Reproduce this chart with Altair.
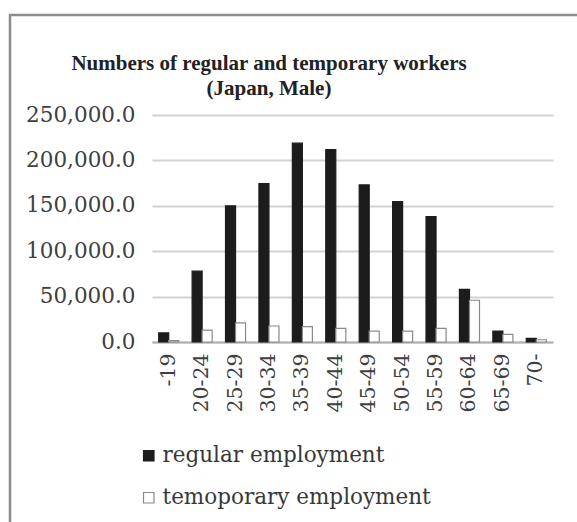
import altair as alt
import pandas as pd

categories = ["-19", "20-24", "25-29", "30-34", "35-39", "40-44", "45-49",
              "50-54", "55-59", "60-64", "65-69", "70-"]
regular = [10000, 78000, 150000, 174500, 219000, 212000, 173000, 154500,
           138000, 58000, 12000, 4000]
temporary = [1500, 13000, 21000, 17600, 17000, 15000, 12000, 12000,
             15000, 46000, 8500, 2500]
series = ["regular employment", "temoporary employment"]
y_ticks = [0, 50000, 100000, 150000, 200000, 250000]
title_lines = ["Numbers of regular and temporary workers", "(Japan, Male)"]

rows = []
for c, r, t in zip(categories, regular, temporary):
    rows.append({"age": c, "series": series[0], "value": r})
    rows.append({"age": c, "series": series[1], "value": t})
df = pd.DataFrame(rows)

SERIF = "DejaVu Serif"

bars = alt.Chart(df).mark_bar(strokeWidth=1.2).encode(
    x=alt.X("age:N", sort=categories, title=None,
            scale=alt.Scale(paddingInner=0.4, paddingOuter=0.2),
            axis=alt.Axis(labelAngle=-90, ticks=False, domain=True,
                          domainColor="#b0b0b0", domainWidth=2,
                          labelFont=SERIF, labelFontSize=20.5,
                          labelColor="#404040", labelPadding=11, grid=False)),
    xOffset=alt.XOffset("series:N", sort=series,
                        scale=alt.Scale(paddingInner=0, paddingOuter=0)),
    y=alt.Y("value:Q", title=None,
            scale=alt.Scale(domain=[0, 250000]),
            axis=alt.Axis(values=y_ticks, format=",.1f", ticks=False,
                          domain=False, grid=True, gridColor="#d2d2d2",
                          gridWidth=2, labelFont=SERIF, labelFontSize=21.5,
                          labelColor="#404040", labelPadding=17)),
    color=alt.Color("series:N", sort=series, title=None,
                    scale=alt.Scale(domain=series, range=["#1c1c1c", "#ffffff"]),
                    legend=alt.Legend(orient="none", legendX=-14, legendY=330,
                                      direction="vertical", symbolType="square",
                                      symbolSize=110, symbolStrokeWidth=1.2,
                                      labelFont=SERIF, labelFontSize=21.5,
                                      labelColor="#383838", rowPadding=19,
                                      labelOffset=3, labelLimit=400)),
    stroke=alt.Stroke("series:N", sort=series, title=None,
                      scale=alt.Scale(domain=series, range=["#1c1c1c", "#8a8a8a"]),
                      legend=None),
)

one = alt.Data(values=[{"k": 1}])
left_rule = alt.Chart(one).mark_rule(color="#8c8c8c", strokeWidth=2.5).encode(
    x=alt.value(-142), y=alt.value(-100), y2=alt.value(420))
top_rule = alt.Chart(one).mark_rule(color="#8c8c8c", strokeWidth=2.5).encode(
    x=alt.value(-143), x2=alt.value(440), y=alt.value(-100))

title_style = dict(font="Liberation Serif", fontSize=21, fontWeight="bold",
                   color="#222222", align="center", baseline="alphabetic")
title1 = alt.Chart(one).mark_text(**title_style).encode(
    x=alt.value(117), y=alt.value(-45), text=alt.value(title_lines[0]))
title2 = alt.Chart(one).mark_text(**title_style).encode(
    x=alt.value(117), y=alt.value(-20), text=alt.value(title_lines[1]))

chart = alt.layer(bars, left_rule, top_rule, title1, title2).properties(
    width=401, height=227,
    padding={"left": 152, "top": 115, "right": 24, "bottom": 180},
    autosize=alt.AutoSizeParams(type="none"),
    background="white",
).configure_view(stroke=None)

chart.save("out.html", embed_options={"renderer": "svg", "actions": False})
